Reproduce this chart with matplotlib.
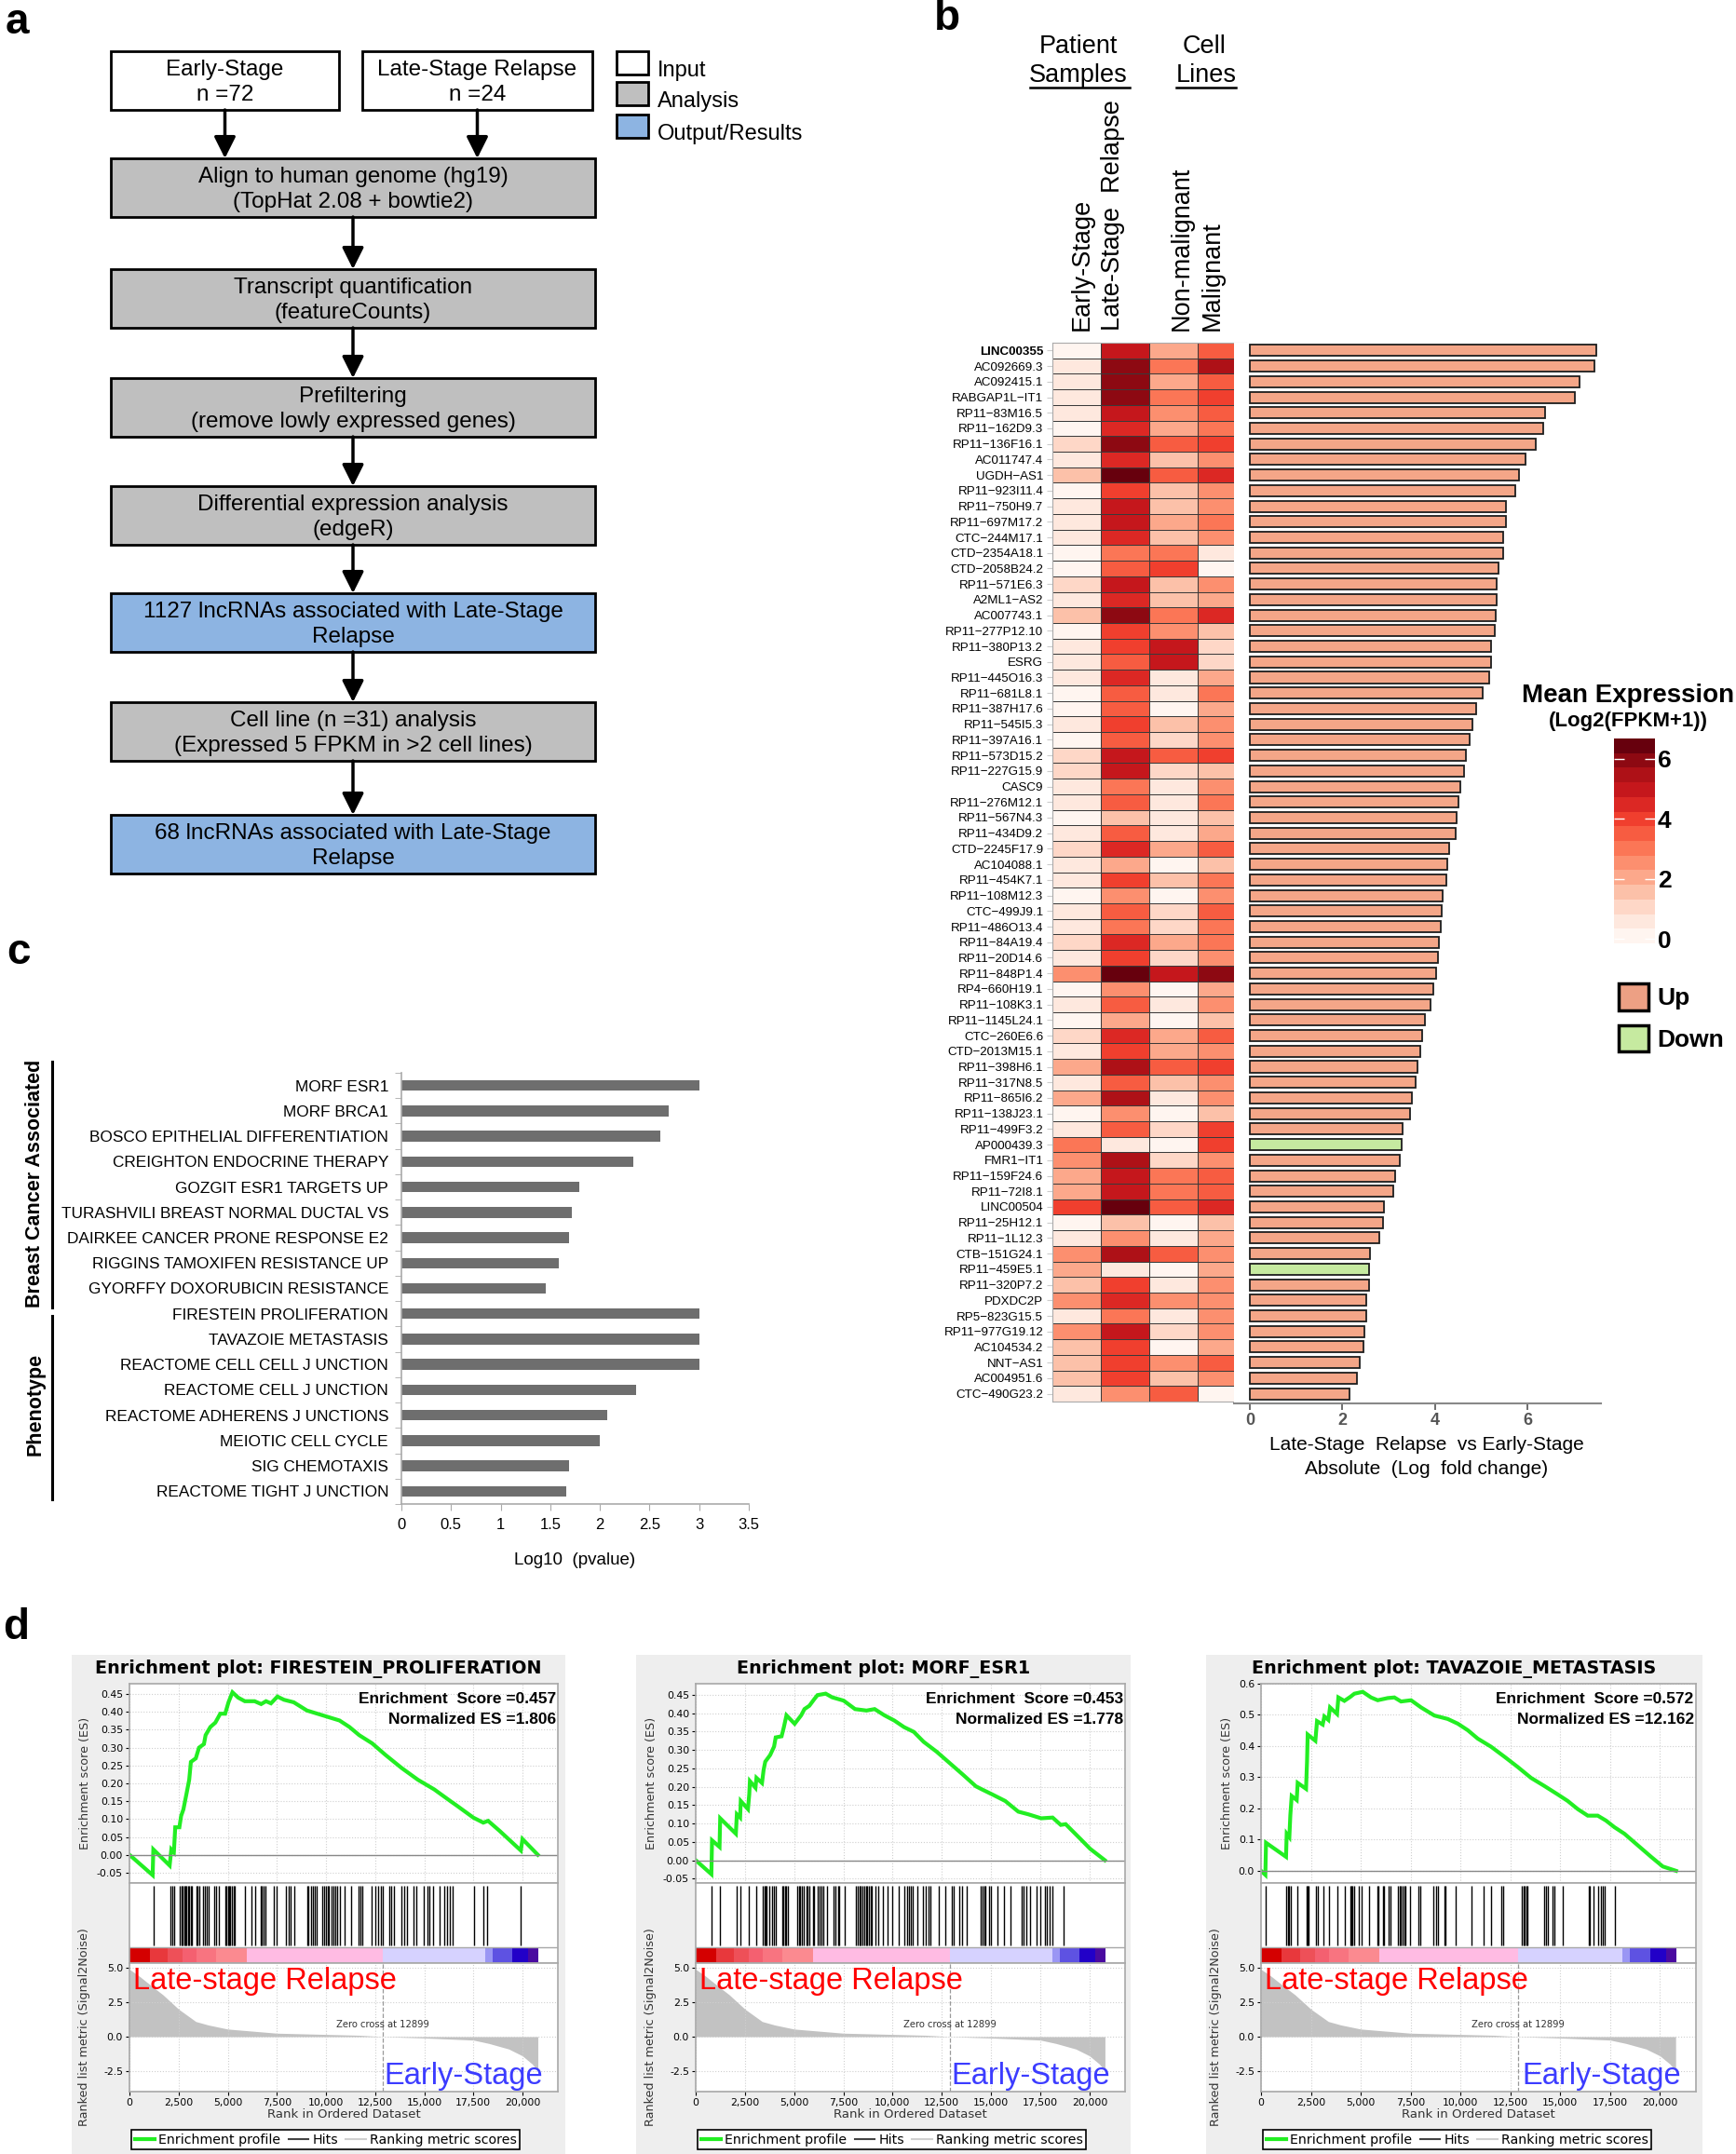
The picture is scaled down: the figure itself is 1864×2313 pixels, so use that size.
import numpy as np
import matplotlib.pyplot as plt
from matplotlib.patches import Rectangle, Patch
from matplotlib.lines import Line2D
from matplotlib.colors import Normalize

W, H = 1864, 2313
plt.rcParams['font.family'] = ['Liberation Sans', 'DejaVu Sans']

# ---------------- panel a: workflow ----------------
input_groups = ['Early-Stage', 'Late-Stage Relapse']
input_n = [72, 24]
flow_steps = [
    'Align to human genome (hg19)\n(TopHat 2.08 + bowtie2)',
    'Transcript quantification\n(featureCounts)',
    'Prefiltering\n(remove lowly expressed genes)',
    'Differential expression analysis\n(edgeR)',
    '1127 lncRNAs associated with Late-Stage\nRelapse',
    'Cell line (n =31) analysis\n(Expressed 5 FPKM in >2 cell lines)',
    '68 lncRNAs associated with Late-Stage\nRelapse',
]
flow_kinds = ['Analysis', 'Analysis', 'Analysis', 'Analysis', 'Output/Results', 'Analysis', 'Output/Results']
kind_names = ['Input', 'Analysis', 'Output/Results']
kind_colors = ['white', '#BFBFBF', '#8DB4E2']

# ---------------- panel b: lncRNA heatmap + fold change ----------------
genes = ['LINC00355', 'AC092669.3', 'AC092415.1', 'RABGAP1L-IT1', 'RP11-83M16.5', 'RP11-162D9.3',
         'RP11-136F16.1', 'AC011747.4', 'UGDH-AS1', 'RP11-923I11.4', 'RP11-750H9.7', 'RP11-697M17.2',
         'CTC-244M17.1', 'CTD-2354A18.1', 'CTD-2058B24.2', 'RP11-571E6.3', 'A2ML1-AS2', 'AC007743.1',
         'RP11-277P12.10', 'RP11-380P13.2', 'ESRG', 'RP11-445O16.3', 'RP11-681L8.1', 'RP11-387H17.6',
         'RP11-545I5.3', 'RP11-397A16.1', 'RP11-573D15.2', 'RP11-227G15.9', 'CASC9', 'RP11-276M12.1',
         'RP11-567N4.3', 'RP11-434D9.2', 'CTD-2245F17.9', 'AC104088.1', 'RP11-454K7.1', 'RP11-108M12.3',
         'CTC-499J9.1', 'RP11-486O13.4', 'RP11-84A19.4', 'RP11-20D14.6', 'RP11-848P1.4', 'RP4-660H19.1',
         'RP11-108K3.1', 'RP11-1145L24.1', 'CTC-260E6.6', 'CTD-2013M15.1', 'RP11-398H6.1', 'RP11-317N8.5',
         'RP11-865I6.2', 'RP11-138J23.1', 'RP11-499F3.2', 'AP000439.3', 'FMR1-IT1', 'RP11-159F24.6',
         'RP11-72I8.1', 'LINC00504', 'RP11-25H12.1', 'RP11-1L12.3', 'CTB-151G24.1', 'RP11-459E5.1',
         'RP11-320P7.2', 'PDXDC2P', 'RP5-823G15.5', 'RP11-977G19.12', 'AC104534.2', 'NNT-AS1',
         'AC004951.6', 'CTC-490G23.2']
columns = ['Early-Stage', 'Late-Stage  Relapse', 'Non-malignant', 'Malignant']
early = [0.3, 0.4, 0.4, 0.6, 0.5, 0.3, 0.9, 0.5, 1.6, 0.3, 0.7, 0.8, 0.5, 0.2, 0.2, 1.0, 0.5, 1.5, 0.3, 0.4,
         0.4, 0.7, 0.3, 0.3, 0.7, 0.3, 1.3, 1.2, 0.4, 0.6, 0.3, 0.5, 1.1, 0.4, 0.7, 0.3, 0.5, 0.6, 1.1, 0.6,
         2.7, 0.2, 0.6, 0.3, 1.0, 0.7, 2.2, 0.6, 2.2, 0.3, 0.8, 3.2, 2.6, 2.2, 2.2, 3.8, 0.2, 0.5, 2.7, 2.2,
         1.5, 2.6, 0.8, 2.7, 1.6, 1.8, 1.5, 0.6]
late = [4.8, 5.8, 5.8, 6.0, 5.2, 4.3, 6.0, 4.6, 6.8, 3.8, 5.2, 5.2, 4.6, 2.8, 3.4, 5.2, 4.3, 6.0, 3.8, 3.8,
        3.6, 4.4, 3.4, 3.5, 4.2, 3.3, 5.0, 5.2, 2.8, 3.4, 1.8, 3.4, 4.5, 2.2, 3.8, 2.7, 3.4, 3.1, 4.5, 3.8,
        6.2, 2.3, 3.6, 2.2, 4.3, 3.8, 5.6, 3.5, 5.4, 2.7, 3.7, 0.8, 5.3, 4.9, 4.9, 6.8, 1.8, 2.6, 5.3, 0.7,
        3.8, 4.6, 3.2, 5.2, 3.8, 4.2, 3.8, 2.3]
nonmal = [2.2, 3.0, 2.2, 3.0, 2.7, 2.2, 3.3, 1.6, 3.5, 1.8, 1.6, 2.0, 1.5, 3.2, 3.8, 1.5, 1.5, 3.0, 2.7, 5.0,
          4.8, 0.5, 0.6, 0.3, 1.5, 1.0, 3.4, 1.2, 0.7, 0.6, 0.4, 0.7, 2.2, 0.2, 1.8, 0.3, 1.3, 1.0, 2.0, 0.9,
          5.0, 0.3, 0.5, 0.2, 2.0, 2.0, 3.6, 1.8, 0.7, 0.2, 1.2, 0.3, 1.3, 2.8, 2.8, 3.3, 0.2, 0.5, 3.6, 0.3,
          0.8, 2.7, 0.4, 1.3, 0.3, 2.6, 1.6, 3.6]
malig = [3.3, 5.3, 3.5, 3.8, 3.5, 3.0, 4.0, 2.7, 4.7, 2.3, 2.3, 3.0, 2.3, 0.5, 0.3, 2.3, 2.2, 4.3, 1.4, 1.2,
         0.9, 2.0, 3.0, 2.2, 2.7, 2.7, 3.8, 1.8, 2.7, 3.2, 1.8, 2.0, 3.3, 1.8, 3.2, 2.5, 3.6, 3.2, 2.8, 2.5,
         5.8, 2.2, 2.4, 1.8, 3.3, 2.6, 3.8, 2.6, 2.5, 1.8, 3.8, 3.8, 2.3, 3.6, 3.3, 4.6, 1.8, 2.2, 2.6, 2.2,
         2.5, 2.6, 2.3, 2.3, 2.0, 3.4, 2.6, 0.2]
abs_logfc = [7.48, 7.44, 7.12, 7.03, 6.38, 6.34, 6.18, 5.96, 5.81, 5.73, 5.53, 5.53, 5.48, 5.47, 5.37, 5.34,
             5.34, 5.31, 5.30, 5.22, 5.22, 5.18, 5.04, 4.89, 4.80, 4.74, 4.66, 4.62, 4.54, 4.50, 4.47, 4.44,
             4.30, 4.27, 4.24, 4.17, 4.15, 4.12, 4.09, 4.06, 4.02, 3.96, 3.90, 3.78, 3.72, 3.68, 3.63, 3.59,
             3.50, 3.46, 3.29, 3.28, 3.23, 3.14, 3.09, 2.89, 2.88, 2.80, 2.59, 2.58, 2.58, 2.51, 2.51, 2.47,
             2.45, 2.37, 2.31, 2.15]
direction = ['Down' if g in ('AP000439.3', 'RP11-459E5.1') else 'Up' for g in genes]
dir_colors = {'Up': '#F4A688', 'Down': '#C6EAA0'}

# ---------------- panel c: gene set enrichment ----------------
pathways = ['MORF ESR1', 'MORF BRCA1', 'BOSCO EPITHELIAL DIFFERENTIATION', 'CREIGHTON ENDOCRINE THERAPY',
            'GOZGIT ESR1 TARGETS UP', 'TURASHVILI BREAST NORMAL DUCTAL VS', 'DAIRKEE CANCER PRONE RESPONSE E2',
            'RIGGINS TAMOXIFEN RESISTANCE UP', 'GYORFFY DOXORUBICIN RESISTANCE', 'FIRESTEIN PROLIFERATION',
            'TAVAZOIE METASTASIS', 'REACTOME CELL CELL J UNCTION', 'REACTOME CELL J UNCTION',
            'REACTOME ADHERENS J UNCTIONS', 'MEIOTIC CELL CYCLE', 'SIG CHEMOTAXIS', 'REACTOME TIGHT J UNCTION']
log10_p = [3.0, 2.69, 2.61, 2.34, 1.79, 1.72, 1.69, 1.59, 1.45, 3.0, 3.0, 3.0, 2.36, 2.07, 2.0, 1.69, 1.66]
pathway_groups = ['Breast Cancer Associated', 'Phenotype']

# ---------------- panel d: GSEA enrichment plots ----------------
fire_rank = [0, 1180, 1215, 2045, 2130, 2260, 2330, 2540, 2630, 2745, 2910, 3040, 3125, 3375, 3540, 3790,
             3875, 4120, 4370, 4620, 4870, 5040, 5240, 5535, 5870, 6370, 6700, 6950, 7200, 7530, 7865, 8360,
             9030, 9860, 10690, 11190, 11690, 12350, 13020, 13850, 14680, 15510, 16340, 16675, 17500, 18005,
             18250, 18835, 19915, 20000, 20780]
fire_es = [0.0, -0.057, 0.015, -0.030, 0.015, 0.007, 0.077, 0.077, 0.109, 0.127, 0.173, 0.210, 0.260, 0.270,
           0.300, 0.310, 0.335, 0.358, 0.370, 0.395, 0.395, 0.427, 0.455, 0.440, 0.430, 0.430, 0.422, 0.430,
           0.424, 0.443, 0.434, 0.427, 0.404, 0.390, 0.376, 0.358, 0.335, 0.312, 0.280, 0.243, 0.210, 0.183,
           0.150, 0.137, 0.104, 0.090, 0.095, 0.067, 0.012, 0.044, 0.0]
fire_hits = [1214, 2095, 2162, 2295, 2578, 2644, 2711, 2777, 2844, 2910, 2977, 3043, 3110, 3176, 3393, 3476,
             3542, 3742, 3842, 3925, 4041, 4291, 4407, 4540, 4873, 4939, 5006, 5072, 5139, 5205, 5288, 5338,
             5870, 6203, 6419, 6669, 6752, 6818, 6918, 7367, 7500, 7982, 8099, 8198, 8365, 9030, 9113, 9230,
             9329, 9446, 9529, 9795, 9895, 9978, 10078, 10161, 10277, 10360, 10460, 10560, 10693, 10943, 11276,
             11641, 11741, 11857, 12306, 12522, 12655, 12772, 12888, 13237, 13320, 13437, 13853, 13969, 14102,
             14468, 14601, 14967, 15150, 15266, 15433, 15799, 16015, 16181, 16314, 16431, 17512, 18010, 18210,
             19923]

morf_rank = [0, 796, 829, 1210, 1243, 2039, 2089, 2255, 2288, 2653, 2719, 2752, 3034, 3084, 3366, 3449, 3532,
             3780, 3979, 4062, 4361, 4477, 4609, 5024, 5355, 5521, 5770, 6019, 6184, 6599, 6931, 7511, 8091,
             8671, 9086, 9583, 10081, 10578, 11075, 11573, 12236, 12899, 13562, 14226, 14557, 15055, 15718,
             16381, 16879, 17541, 18122, 18536, 18785, 19531, 20028, 20774]
morf_es = [0.0, -0.038, 0.054, 0.036, 0.114, 0.072, 0.125, 0.116, 0.161, 0.139, 0.179, 0.215, 0.197, 0.224,
           0.210, 0.246, 0.268, 0.286, 0.309, 0.334, 0.337, 0.362, 0.394, 0.371, 0.394, 0.411, 0.420, 0.438,
           0.449, 0.453, 0.443, 0.434, 0.411, 0.407, 0.411, 0.394, 0.380, 0.362, 0.349, 0.322, 0.295, 0.264,
           0.233, 0.201, 0.192, 0.179, 0.161, 0.132, 0.125, 0.114, 0.116, 0.096, 0.098, 0.058, 0.031, 0.0]
morf_hits = [796, 1210, 2089, 2288, 2703, 3084, 3399, 3482, 3532, 3614, 3747, 3863, 3979, 4062, 4394, 4443,
             4526, 4609, 4692, 5156, 5239, 5306, 5405, 5488, 5604, 5687, 5770, 5936, 6019, 6184, 6267, 6383,
             6483, 6682, 7013, 7096, 7229, 7295, 7560, 8141, 8224, 8307, 8373, 8456, 8539, 8671, 8721, 8787,
             8870, 8937, 9119, 9252, 9500, 9749, 9998, 10330, 10578, 10711, 10827, 10943, 11026, 11241, 11540,
             11689, 11822, 11938, 12352, 12651, 12982, 13115, 13397, 13529, 13761, 14474, 14557, 14640, 14723,
             14889, 15005, 15304, 15635, 15967, 16547, 16663, 16795, 16995, 17293, 17509, 17741, 17824, 17956,
             18089, 18669]

tava_rank = [0, 217, 251, 1253, 1287, 1420, 1470, 1537, 1788, 1838, 2256, 2306, 2339, 2724, 2807, 3091, 3175,
             3375, 3459, 3810, 3877, 4178, 4478, 4679, 5097, 5514, 5849, 6350, 6684, 7018, 7520, 8021, 8689,
             9358, 9859, 10360, 10862, 11530, 12199, 12867, 13535, 14204, 14872, 15373, 15875, 16376, 16877,
             17294, 17712, 18214, 18882, 19551, 20136, 20804]
tava_es = [0.0, -0.013, 0.090, 0.045, 0.119, 0.108, 0.179, 0.240, 0.227, 0.282, 0.263, 0.350, 0.437, 0.417,
           0.480, 0.469, 0.495, 0.484, 0.524, 0.503, 0.556, 0.545, 0.558, 0.568, 0.574, 0.556, 0.547, 0.554,
           0.556, 0.543, 0.547, 0.524, 0.498, 0.487, 0.472, 0.451, 0.424, 0.398, 0.366, 0.333, 0.298, 0.272,
           0.245, 0.224, 0.198, 0.177, 0.177, 0.161, 0.140, 0.119, 0.082, 0.045, 0.014, 0.0]
tava_hits = [251, 1253, 1337, 1420, 1504, 1805, 2306, 2339, 2390, 2757, 2841, 3125, 3392, 3843, 4178, 4462,
             4512, 4595, 4645, 4879, 5063, 5397, 5849, 5899, 6099, 6183, 6400, 6467, 6851, 6935, 7018, 7102,
             7185, 7235, 7486, 7904, 7987, 8656, 8773, 8890, 9190, 9241, 9776, 10527, 11162, 11530, 12031,
             12115, 13067, 13151, 13234, 13284, 13368, 14204, 14287, 14371, 14621, 14705, 15122, 16409, 16459,
             16660, 16877, 17044, 17128, 17211, 17762]

gsea_titles = ['FIRESTEIN_PROLIFERATION', 'MORF_ESR1', 'TAVAZOIE_METASTASIS']
gsea_es_score = ['0.457', '0.453', '0.572']
gsea_nes = ['1.806', '1.778', '12.162']

metric_rank = [0, 500, 1200, 1700, 2500, 3375, 4000, 5000, 7500, 11700, 12899, 15000, 17500, 18300, 19300,
               20000, 20500, 20780]
metric_value = [4.9, 4.4, 3.6, 3.05, 2.0, 1.1, 0.85, 0.55, 0.25, 0.1, 0.0, -0.1, -0.25, -0.5, -0.9, -1.4,
                -2.0, -2.5]
zero_cross = 12899
strip_edges = [0, 1050, 1950, 2700, 3400, 4400, 5950, 12900, 18100, 18500, 19500, 20300, 20800]
strip_colors = ['#D40000', '#E8383C', '#EE5058', '#F46070', '#F87480', '#FB8A90', '#FFBBE3', '#D6D2FF',
                '#9A96F4', '#5E52E2', '#2200C8', '#4A0AA0']

# ============================================================
fig = plt.figure(figsize=(W / 100, H / 100), dpi=100)


def box(x0, y0, x1, y1):
    # pixel box (top-left origin) -> figure fraction rect
    return [x0 / W, 1 - y1 / H, (x1 - x0) / W, (y1 - y0) / H]


def ftext(x, y, s, **kw):
    return fig.text(x / W, 1 - y / H, s, **kw)


canvas = fig.add_axes([0, 0, 1, 1])
canvas.set_xlim(0, W)
canvas.set_ylim(H, 0)
canvas.axis('off')

# panel letters
for lx, ly, letter in [(6, 24, 'a'), (1003, 20, 'b'), (7, 1023, 'c'), (3, 1748, 'd')]:
    ftext(lx, ly, letter, fontsize=33, fontweight='bold', ha='left', va='center')

# ---------------- panel a ----------------
arrow_kw = dict(arrowstyle='-|>,head_length=0.7,head_width=0.35', lw=2.5, color='black',
                shrinkA=0, shrinkB=0, mutation_scale=20)
bh = 63
step_top = [170, 289, 406, 522, 637, 754, 875]
for (x0, x1), grp, n in zip([(119, 364), (389, 636)], input_groups, input_n):
    canvas.add_patch(Rectangle((x0, 55), x1 - x0, bh, fc=kind_colors[0], ec='black', lw=2))
    canvas.text((x0 + x1) / 2, 55 + bh / 2 + 2, f'{grp}\nn ={n}', ha='center', va='center',
                fontsize=17.5, linespacing=1.35)
    canvas.annotate('', xy=((x0 + x1) / 2, step_top[0]), xytext=((x0 + x1) / 2, 55 + bh),
                    arrowprops=arrow_kw)
for i, (txt, kind) in enumerate(zip(flow_steps, flow_kinds)):
    top = step_top[i]
    canvas.add_patch(Rectangle((119, top), 520, bh, fc=kind_colors[kind_names.index(kind)],
                               ec='black', lw=2))
    canvas.text(379, top + bh / 2 + 2, txt, ha='center', va='center', fontsize=17.5, linespacing=1.35)
    if i + 1 < len(flow_steps):
        canvas.annotate('', xy=(379, step_top[i + 1]), xytext=(379, top + bh), arrowprops=arrow_kw)
for j, (name, col) in enumerate(zip(kind_names, kind_colors)):
    y0 = [55, 88, 123][j]
    canvas.add_patch(Rectangle((662, y0), 34, 25, fc=col, ec='black', lw=2))
    canvas.text(706, y0 + 21, name, ha='left', va='center', fontsize=17)

# ---------------- panel b ----------------
n = len(genes)
mat = np.column_stack([early, late, nonmal, malig])
cmap = plt.get_cmap('Reds', 14)
norm = Normalize(-0.15, 6.68)

ax_hm = fig.add_axes(box(1130, 368, 1338, 1505))
mesh = ax_hm.pcolormesh(mat, cmap=cmap, norm=norm, edgecolors='#3a3a3a', linewidth=0.7)
ax_hm.set_xlim(0, 4)
ax_hm.set_ylim(n, 0)
ax_hm.set_xticks([])
ax_hm.set_yticks(np.arange(n) + 0.5)
ax_hm.set_yticklabels([g.replace('-', '\u2212') for g in genes], fontsize=9.6)
ax_hm.get_yticklabels()[0].set_fontweight('bold')
ax_hm.tick_params(axis='y', length=4, color='#cccccc', pad=3)
for s in ax_hm.spines.values():
    s.set_color('#aaaaaa')
    s.set_linewidth(0.8)

for cx, lab in zip([1162, 1195, 1269, 1302], columns):
    ftext(cx, 355, lab, rotation=90, ha='center', va='bottom', fontsize=19.5)
ftext(1158, 50, 'Patient', ha='center', va='center', fontsize=19.5)
ftext(1158, 81, 'Samples', ha='center', va='center', fontsize=19.5)
ftext(1293, 50, 'Cell', ha='center', va='center', fontsize=19.5)
ftext(1295, 81, 'Lines', ha='center', va='center', fontsize=19.5)
canvas.plot([1106, 1213], [94, 94], color='black', lw=1.8)
canvas.plot([1263, 1327], [94, 94], color='black', lw=1.8)

ax_bar = fig.add_axes(box(1325, 368, 1719, 1507))
ax_bar.barh(np.arange(n) + 0.5, abs_logfc, height=0.72, color=[dir_colors[d] for d in direction],
            edgecolor='#1e1e1e', linewidth=1.3)
ax_bar.set_ylim(n + 0.12, 0)
ax_bar.set_xlim(-0.342, 7.586)
ax_bar.set_yticks([])
ax_bar.set_xticks([0, 2, 4, 6])
ax_bar.tick_params(axis='x', colors='#555555', length=5, width=1.2, labelsize=13, pad=2)
for t in ax_bar.get_xticklabels():
    t.set_fontweight('bold')
for side in ['left', 'right', 'top']:
    ax_bar.spines[side].set_visible(False)
ax_bar.spines['bottom'].set_color('#888888')
ax_bar.spines['bottom'].set_linewidth(1.5)
ax_bar.set_xlabel('Late-Stage  Relapse  vs Early-Stage\nAbsolute  (Log  fold change)', fontsize=15,
                  linespacing=1.45)
ax_bar.xaxis.set_label_coords(0.525, -0.031)

cax = fig.add_axes(box(1733, 793, 1777, 1013))
cb = fig.colorbar(mesh, cax=cax, ticks=[0, 2, 4, 6])
cb.outline.set_visible(False)
cax.tick_params(length=8, width=1, color='white', direction='in', left=True, right=True,
                labelsize=19, pad=2)
for t in cax.get_yticklabels():
    t.set_fontweight('bold')
ftext(1748, 747, 'Mean Expression', ha='center', va='center', fontsize=20, fontweight='bold')
ftext(1748, 775, '(Log2(FPKM+1))', ha='center', va='center', fontsize=16, fontweight='bold')

fig.legend([Patch(facecolor='#EDA084', edgecolor='black', lw=2.5),
            Patch(facecolor=dir_colors['Down'], edgecolor='black', lw=2.5)],
           ['Up', 'Down'], loc='upper left', bbox_to_anchor=(1738 / W, 1 - 1056 / H), frameon=False,
           prop={'size': 19, 'weight': 'bold'}, handlelength=1.2, handleheight=1.3, handletextpad=0.35,
           labelspacing=0.6, borderaxespad=0, borderpad=0)

# ---------------- panel c ----------------
ax_c = fig.add_axes(box(431, 1152, 804, 1615))
yc = np.arange(len(pathways))
ax_c.barh(yc, log10_p, height=0.42, color='#6e6e6e')
ax_c.set_ylim(len(pathways) - 0.5, -0.5)
ax_c.set_xlim(0, 3.5)
ax_c.set_yticks(yc)
ax_c.set_yticklabels(pathways, fontsize=12.4)
ax_c.set_yticks(np.arange(-0.5, len(pathways), 1), minor=True)
ax_c.tick_params(axis='y', which='major', length=0, pad=10)
ax_c.tick_params(axis='y', which='minor', length=5, color='#aaaaaa')
ax_c.set_xticks(np.arange(0, 3.51, 0.5))
ax_c.set_xticklabels(['0', '0.5', '1', '1.5', '2', '2.5', '3', '3.5'])
ax_c.tick_params(axis='x', length=5, color='#aaaaaa', labelsize=12, pad=6)
for side in ['right', 'top']:
    ax_c.spines[side].set_visible(False)
for side in ['left', 'bottom']:
    ax_c.spines[side].set_color('#aaaaaa')
    ax_c.spines[side].set_linewidth(1.2)
ax_c.set_xlabel('Log10  (pvalue)', fontsize=13.5, labelpad=16)

canvas.plot([56, 56], [1140, 1404], color='black', lw=2.2)
canvas.plot([56, 56], [1413, 1610], color='black', lw=2.2)
ftext(38, 1271, pathway_groups[0], rotation=90, ha='center', va='center', fontsize=15.5, fontweight='bold')
ftext(38, 1508, pathway_groups[1], rotation=90, ha='center', va='center', fontsize=15.5, fontweight='bold')

# ---------------- panel d ----------------
DJ = 'DejaVu Sans'


def gsea_panel(bg, axx, title, rank, es, hits, es_lim, es_ticks, es_fmt, score, nes):
    canvas.add_patch(Rectangle((bg[0], 1777), bg[1] - bg[0], H - 1777, fc='#EEEEEE', ec='none'))
    x0, x1 = axx
    ftext((bg[0] + bg[1]) / 2, 1792, 'Enrichment plot: ' + title, ha='center', va='center',
          fontsize=13.8, fontweight='bold', family=DJ)
    ax_es = fig.add_axes(box(x0, 1808, x1, 2022))
    ax_mid = fig.add_axes(box(x0, 2022, x1, 2108))
    ax_rm = fig.add_axes(box(x0, 2108, x1, 2246))
    xt = np.arange(0, 20001, 2500)
    for ax in (ax_es, ax_mid, ax_rm):
        ax.set_xlim(0, 21800)
        for s in ax.spines.values():
            s.set_color('#a8a8a8')
            s.set_linewidth(1.2)
    # running enrichment score
    ax_es.plot(rank, es, color='#22EE22', lw=3, solid_joinstyle='miter')
    ax_es.axhline(0, color='#888888', lw=1)
    ax_es.set_ylim(*es_lim)
    ax_es.set_yticks(es_ticks)
    ax_es.set_yticklabels([es_fmt % v for v in es_ticks])
    ax_es.set_xticks(xt)
    ax_es.tick_params(axis='x', length=0, labelbottom=False)
    ax_es.tick_params(axis='y', length=3, labelsize=7.8, labelfontfamily=DJ, pad=2)
    ax_es.grid(True, ls=':', color='#cfcfcf', lw=0.8)
    ax_es.set_ylabel('Enrichment score (ES)', fontsize=9.2, family=DJ, color='#333333', labelpad=4)
    ax_es.text(0.995, 0.925, f'Enrichment  Score ={score}', transform=ax_es.transAxes, ha='right',
               va='center', fontsize=12.5, fontweight='bold')
    ax_es.text(0.995, 0.82, f'Normalized ES ={nes}', transform=ax_es.transAxes, ha='right',
               va='center', fontsize=12.5, fontweight='bold')
    # hits and ranked colour strip
    ax_mid.vlines(hits, 0.22, 0.96, color='black', lw=1)
    ax_mid.bar(strip_edges[:-1], 0.2, width=np.diff(strip_edges), bottom=0, align='edge',
               color=strip_colors, lw=0)
    ax_mid.axhline(0.2, color='#a8a8a8', lw=1)
    ax_mid.set_ylim(0, 1)
    ax_mid.set_xticks([])
    ax_mid.set_yticks([])
    # ranked list metric
    ax_rm.fill_between(metric_rank, metric_value, 0, color='#C2C2C2', lw=0)
    ax_rm.axvline(zero_cross, color='#999999', ls='--', lw=0.9)
    ax_rm.text(zero_cross, 0.55, f'Zero cross at {zero_cross}', ha='center', va='bottom', fontsize=7.2,
               family=DJ, color='#333333')
    ax_rm.set_ylim(-4.0, 5.35)
    ax_rm.set_yticks([-2.5, 0.0, 2.5, 5.0])
    ax_rm.set_yticklabels(['-2.5', '0.0', '2.5', '5.0'])
    ax_rm.set_xticks(xt)
    ax_rm.set_xticklabels([f'{v:,}' for v in xt])
    ax_rm.tick_params(length=3, labelsize=7.8, labelfontfamily=DJ, pad=2)
    ax_rm.grid(True, ls=':', color='#cfcfcf', lw=0.8)
    ax_rm.set_xlabel('Rank in Ordered Dataset', fontsize=9.5, family=DJ, color='#333333', labelpad=1)
    ax_rm.set_ylabel('Ranked list metric (Signal2Noise)', fontsize=9.2, family=DJ, color='#333333',
                     labelpad=10)
    ax_rm.text(0.008, 0.86, 'Late-stage Relapse', transform=ax_rm.transAxes, ha='left', va='center',
               fontsize=23.5, color='#FF0000')
    ax_rm.text(0.965, 0.12, 'Early-Stage', transform=ax_rm.transAxes, ha='right', va='center',
               fontsize=23.5, color='#3C3CFF')
    leg = fig.legend([Line2D([], [], color='#22EE22', lw=3), Line2D([], [], color='#444444', lw=1.5),
                      Line2D([], [], color='#d0d0d0', lw=1.5)],
                     ['Enrichment profile', 'Hits', 'Ranking metric scores'], loc='upper left',
                     bbox_to_anchor=((x0 + 2) / W, 1 - 2287 / H), ncol=3, prop={'family': DJ, 'size': 10.2},
                     frameon=True, fancybox=False, edgecolor='black', framealpha=1, borderpad=0.25,
                     handlelength=1.5, handletextpad=0.3, columnspacing=0.6, borderaxespad=0)
    leg.get_frame().set_linewidth(1.2)


gsea_panel((77, 607), (139, 599), gsea_titles[0], fire_rank, fire_es, fire_hits, (-0.079, 0.479),
           np.round(np.arange(-0.05, 0.451, 0.05), 2), '%.2f', gsea_es_score[0], gsea_nes[0])
gsea_panel((683, 1214), (747, 1208), gsea_titles[1], morf_rank, morf_es, morf_hits, (-0.062, 0.48),
           np.round(np.arange(-0.05, 0.451, 0.05), 2), '%.2f', gsea_es_score[1], gsea_nes[1])
gsea_panel((1295, 1828), (1354, 1821), gsea_titles[2], tava_rank, tava_es, tava_hits, (-0.039, 0.6),
           np.round(np.arange(0.0, 0.61, 0.1), 1), '%.1f', gsea_es_score[2], gsea_nes[2])

fig.savefig('out.png', dpi=100, facecolor='white')
